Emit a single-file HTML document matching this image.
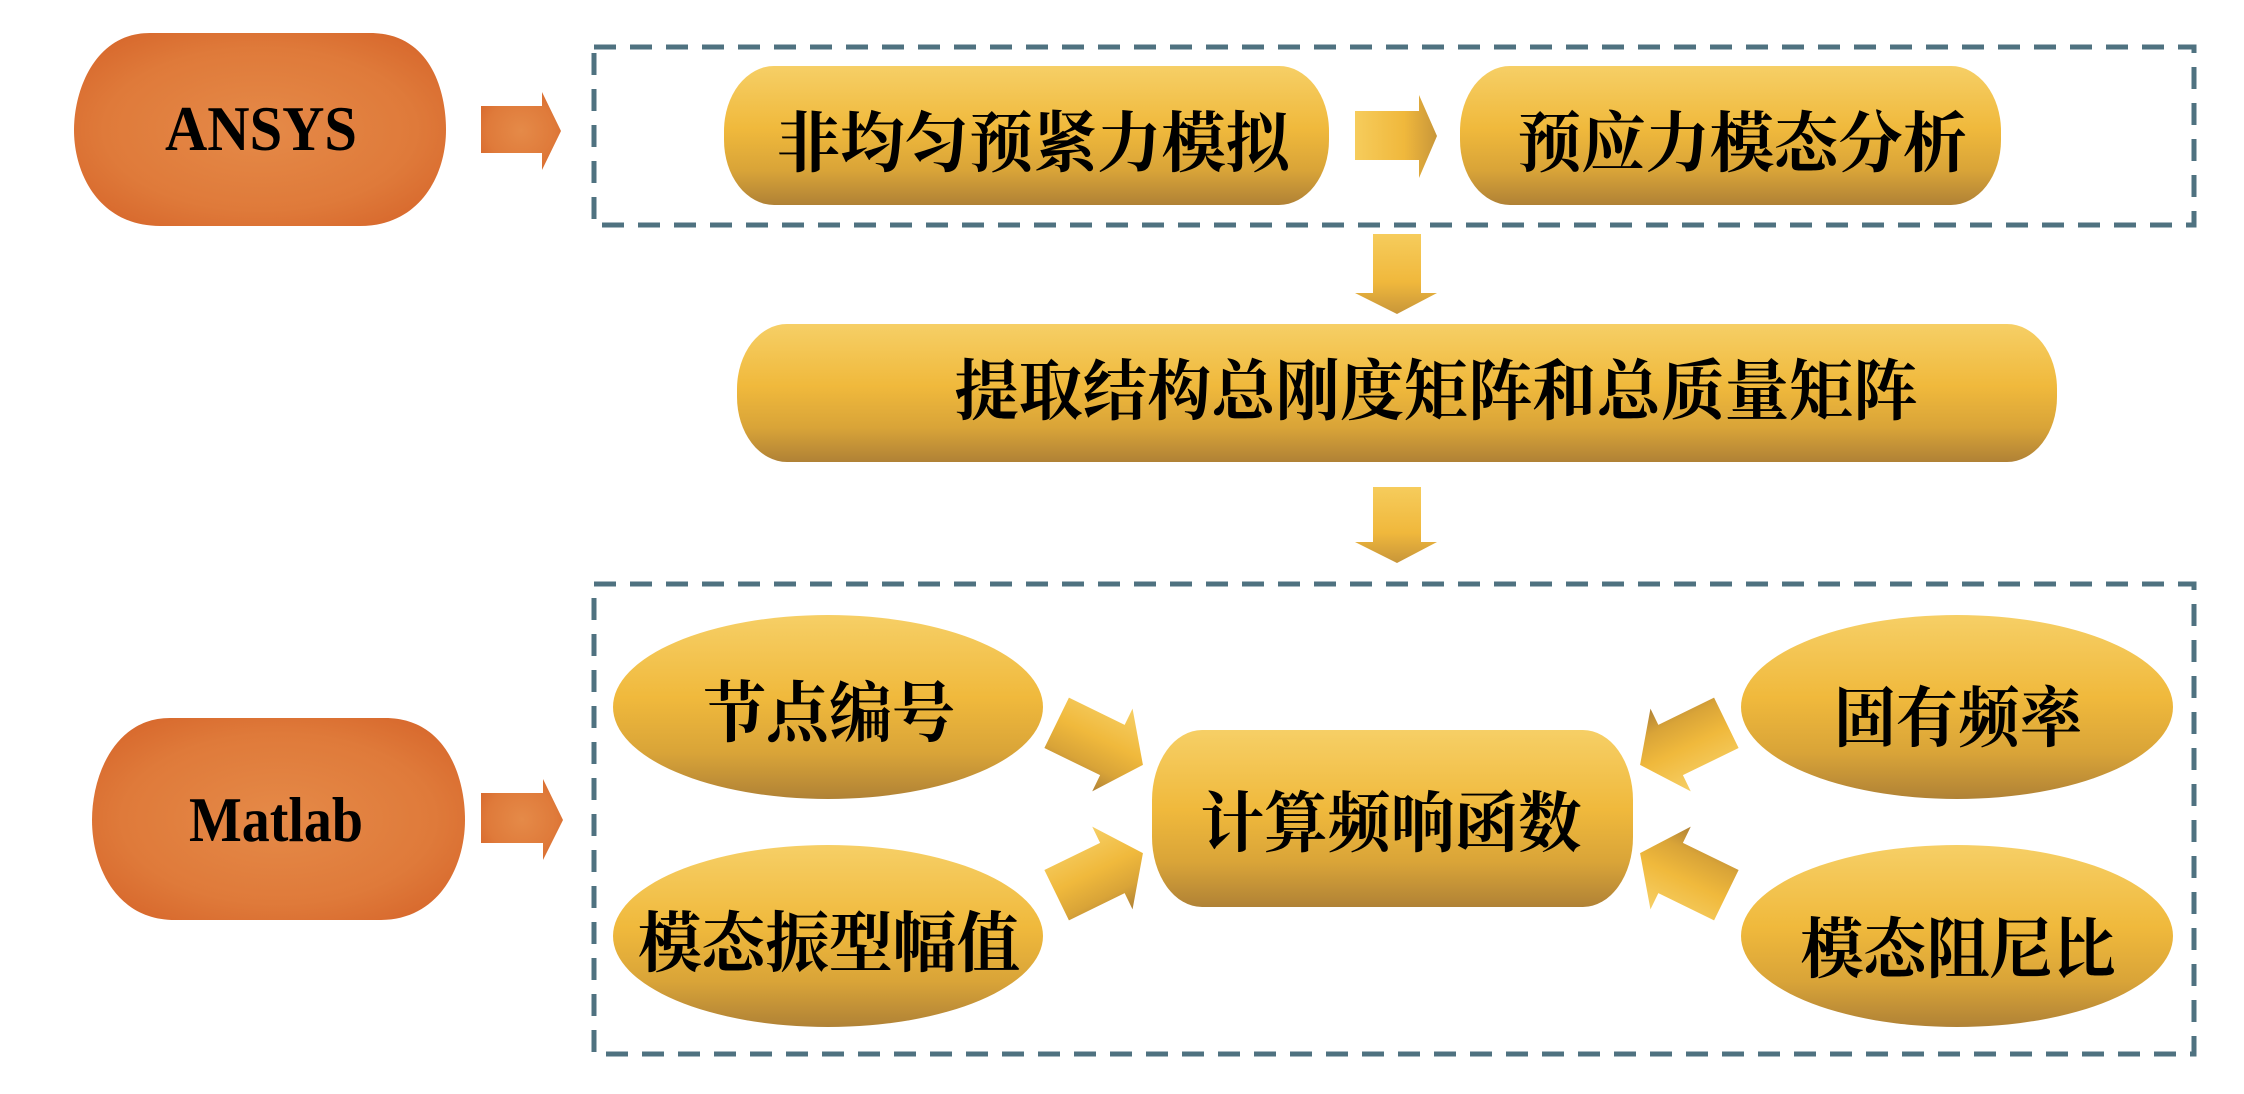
<!DOCTYPE html>
<html><head><meta charset="utf-8"><style>
html,body{margin:0;padding:0;background:#fff;}
svg{display:block;}
.cn{font-family:"Liberation Serif","Noto Serif CJK SC","Noto Sans CJK SC",serif;font-weight:bold;font-size:66px;fill:#000;}
.en{font-family:"Liberation Serif",serif;font-weight:bold;font-size:64px;fill:#000;}
</style></head><body>
<svg width="2244" height="1094" viewBox="0 0 2244 1094" xmlns="http://www.w3.org/2000/svg">
<defs>
<radialGradient id="og" cx="0.5" cy="0.5" r="0.6">
<stop offset="0" stop-color="#e58a48"/><stop offset="0.7" stop-color="#df7a3a"/><stop offset="1" stop-color="#d86a2e"/>
</radialGradient>
<linearGradient id="yg" x1="0" y1="0" x2="0" y2="1">
<stop offset="0" stop-color="#f6cf66"/><stop offset="0.45" stop-color="#f0b93c"/><stop offset="0.75" stop-color="#d9a438"/><stop offset="1" stop-color="#b08236"/>
</linearGradient>
<linearGradient id="yh" x1="0" y1="0" x2="1" y2="0">
<stop offset="0" stop-color="#f6cc5c"/><stop offset="0.6" stop-color="#f0b83c"/><stop offset="1" stop-color="#c8963a"/>
</linearGradient>
<linearGradient id="yv" x1="0" y1="0" x2="0" y2="1">
<stop offset="0" stop-color="#f6cc5c"/><stop offset="0.6" stop-color="#f0b83c"/><stop offset="1" stop-color="#c8963a"/>
</linearGradient>
</defs>

<rect x="594" y="47" width="1600" height="178" fill="none" stroke="#4f7280" stroke-width="5" stroke-dasharray="22,14"/>
<rect x="594" y="584" width="1600" height="470" fill="none" stroke="#4f7280" stroke-width="5" stroke-dasharray="22,14"/>

<path d="M150,33 H370 C430,33 446,90 446,130 C446,175 420,226 360,226 H160 C100,226 74,175 74,130 C74,90 95,33 150,33 Z" fill="url(#og)"/>
<text class="en" x="261" y="150" text-anchor="middle" textLength="192" lengthAdjust="spacingAndGlyphs">ANSYS</text>
<path d="M170,718 H385 C445,718 465,775 465,820 C465,865 440,920 380,920 H175 C115,920 92,865 92,820 C92,775 115,718 170,718 Z" fill="url(#og)"/>
<text class="en" x="276" y="841" text-anchor="middle" textLength="174" lengthAdjust="spacingAndGlyphs">Matlab</text>

<polygon points="481,106 542,106 542,92 561,131 542,170 542,153 481,153" fill="url(#og)"/>
<polygon points="481,793 543,793 543,779 563,820 543,860 543,843 481,843" fill="url(#og)"/>

<rect x="724" y="66" width="605" height="139" rx="50" ry="65" fill="url(#yg)"/>
<text class="cn" x="1033" y="166" text-anchor="middle" textLength="514" lengthAdjust="spacingAndGlyphs">非均匀预紧力模拟</text>
<polygon points="1355,111 1419,111 1419,95 1437,136 1419,178 1419,160 1355,160" fill="url(#yh)"/>
<rect x="1460" y="66" width="541" height="139" rx="50" ry="65" fill="url(#yg)"/>
<text class="cn" x="1742" y="166" text-anchor="middle" textLength="450" lengthAdjust="spacingAndGlyphs">预应力模态分析</text>

<polygon points="1373,234 1421,234 1421,293 1437,293 1397,314 1355,293 1373,293" fill="url(#yv)"/>
<polygon points="1373,487 1421,487 1421,542 1437,542 1397,563 1355,542 1373,542" fill="url(#yv)"/>

<rect x="737" y="324" width="1320" height="138" rx="50" ry="65" fill="url(#yg)"/>
<text class="cn" x="1436" y="414" text-anchor="middle" textLength="963" lengthAdjust="spacingAndGlyphs">提取结构总刚度矩阵和总质量矩阵</text>

<ellipse cx="828" cy="707" rx="215" ry="92" fill="url(#yg)"/>
<text class="cn" x="829" y="736" text-anchor="middle" textLength="252" lengthAdjust="spacingAndGlyphs">节点编号</text>
<ellipse cx="828" cy="936" rx="215" ry="91" fill="url(#yg)"/>
<text class="cn" x="829" y="966" text-anchor="middle" textLength="382" lengthAdjust="spacingAndGlyphs">模态振型幅值</text>
<ellipse cx="1957" cy="707" rx="216" ry="92" fill="url(#yg)"/>
<text class="cn" x="1958" y="741" text-anchor="middle" textLength="248" lengthAdjust="spacingAndGlyphs">固有频率</text>
<ellipse cx="1957" cy="936" rx="216" ry="91" fill="url(#yg)"/>
<text class="cn" x="1958" y="972" text-anchor="middle" textLength="315" lengthAdjust="spacingAndGlyphs">模态阻尼比</text>

<rect x="1152" y="730" width="481" height="177" rx="50" ry="70" fill="url(#yg)"/>
<text class="cn" x="1391" y="846" text-anchor="middle" textLength="381" lengthAdjust="spacingAndGlyphs">计算频响函数</text>

<g transform="translate(1098 743) rotate(26)"><polygon points="-46,-28 16,-28 16,-46 50,0 16,46 16,28 -46,28" fill="url(#yg)"/></g>
<g transform="translate(1098 875) rotate(-26)"><polygon points="-46,-28 16,-28 16,-46 50,0 16,46 16,28 -46,28" fill="url(#yg)"/></g>
<g transform="translate(1685 743) rotate(154)"><polygon points="-46,-28 16,-28 16,-46 50,0 16,46 16,28 -46,28" fill="url(#yg)"/></g>
<g transform="translate(1685 875) rotate(206)"><polygon points="-46,-28 16,-28 16,-46 50,0 16,46 16,28 -46,28" fill="url(#yg)"/></g>
</svg>
</body></html>
